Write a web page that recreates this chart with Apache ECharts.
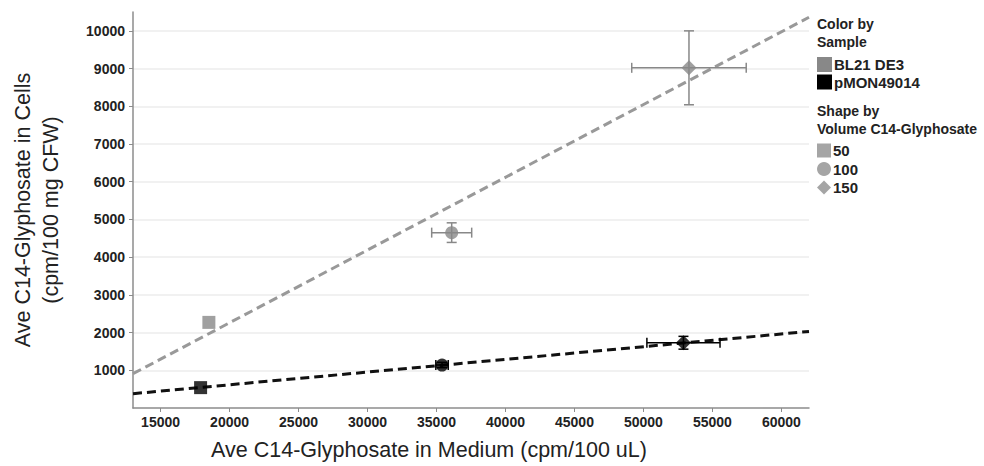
<!DOCTYPE html>
<html>
<head>
<meta charset="utf-8">
<script src="https://cdn.jsdelivr.net/npm/echarts@6/dist/echarts.min.js"></script>
<style>
  html, body { margin: 0; padding: 0; background: #fff; }
  #main { width: 984px; height: 466px; }
</style>
</head>
<body>
<div id="main"></div>
<script>
// samples (colour) and volumes (shape)
var sampleNames = ['BL21 DE3', 'pMON49014']
var volumeNames = ['50', '100', '150']
var volumeSymbols = ['rect', 'circle', 'diamond']

// BL21 DE3 points, one per volume
var bl21X = [18500, 36100, 53300]
var bl21Y = [2270, 4650, 9020]
var bl21XErr = [0, 1450, 4150]
var bl21YErr = [0, 260, 980]

// pMON49014 points, one per volume
var pmonX = [17900, 35400, 52900]
var pmonY = [540, 1140, 1730]
var pmonXErr = [0, 450, 2650]
var pmonYErr = [0, 70, 170]

// trend line ends
var bl21Trend = [[13000, 910], [62000, 10360]]
var pmonTrend = [[13000, 380], [62000, 2030]]

// tick labels
var xTicks = [15000, 20000, 25000, 30000, 35000, 40000, 45000, 50000, 55000, 60000]
var yTicks = [1000, 2000, 3000, 4000, 5000, 6000, 7000, 8000, 9000, 10000]

var sampleColors = ['#888888', '#000000']
var font = 'Liberation Sans, Arial, sans-serif'

var myChart = echarts.init(document.getElementById('main'), null, { renderer: 'svg' })

function errData(xs, ys, xe, ye) {
  return xs.map(function (x, i) {
    return [x, ys[i], xe[i], ye[i]]
  })
}

function renderErr(params, api) {
  var x = api.value(0)
  var y = api.value(1)
  var xe = api.value(2)
  var ye = api.value(3)
  if (!xe && !ye) return null
  var l = api.coord([x - xe, y])
  var r = api.coord([x + xe, y])
  var t = api.coord([x, y + ye])
  var b = api.coord([x, y - ye])
  var cap = 5
  var style = { stroke: api.visual('color'), lineWidth: 1.5 }
  var lines = [
    [l[0], l[1], r[0], r[1]],
    [l[0], l[1] - cap, l[0], l[1] + cap],
    [r[0], r[1] - cap, r[0], r[1] + cap],
    [t[0], t[1], b[0], b[1]],
    [t[0] - cap, t[1], t[0] + cap, t[1]],
    [b[0] - cap, b[1], b[0] + cap, b[1]],
  ]
  return {
    type: 'group',
    children: lines.map(function (p) {
      return { type: 'line', shape: { x1: p[0], y1: p[1], x2: p[2], y2: p[3] }, style: style }
    }),
  }
}

var series = []

// error bars, one series per sample (these drive the colour legend)
var errSets = [
  errData(bl21X, bl21Y, bl21XErr, bl21YErr),
  errData(pmonX, pmonY, pmonXErr, pmonYErr),
]
sampleNames.forEach(function (name, i) {
  series.push({
    name: name,
    type: 'custom',
    renderItem: renderErr,
    itemStyle: { color: sampleColors[i] },
    encode: { x: 0, y: 1 },
    data: errSets[i],
    z: 3,
  })
})

// trend lines
;[bl21Trend, pmonTrend].forEach(function (d, i) {
  series.push({
    type: 'line',
    data: d,
    showSymbol: false,
    silent: true,
    lineStyle: { color: i === 0 ? '#999999' : '#111111', width: 3, type: [9, 5] },
    z: 2,
  })
})

// markers, one series per volume (these drive the shape legend)
volumeNames.forEach(function (name, v) {
  series.push({
    name: name,
    type: 'scatter',
    symbol: volumeSymbols[v],
    symbolSize: v === 2 ? 15 : 13,
    itemStyle: { color: '#8e8e8e' },
    z: 5,
    data: [
      { value: [bl21X[v], bl21Y[v]], itemStyle: { color: sampleColors[0] } },
      { value: [pmonX[v], pmonY[v]], itemStyle: { color: sampleColors[1] } },
    ],
  })
})

var legendText = {
  color: '#222',
  fontWeight: 'bold',
  fontSize: 15,
  fontFamily: font,
  lineHeight: 15,
  padding: [0, 0, 0, -3],
}

myChart.setOption({
  animation: false,
  grid: { left: 133, right: 175, top: 12, bottom: 55 },
  xAxis: {
    type: 'value',
    min: 13000,
    max: 62000,
    name: 'Ave C14-Glyphosate in Medium (cpm/100 uL)',
    nameLocation: 'middle',
    nameGap: 31,
    nameTextStyle: { color: '#222', fontSize: 21.5, fontFamily: font, padding: [0, 84, 0, 0] },
    axisLine: { lineStyle: { color: '#8c8c8c', width: 1.5 } },
    axisTick: { show: true, length: 4, customValues: xTicks, lineStyle: { color: '#8c8c8c' } },
    axisLabel: {
      customValues: xTicks,
      formatter: function (v) { return String(v) },
      color: '#222',
      fontWeight: 'bold',
      fontSize: 14,
      fontFamily: font,
      margin: 7,
    },
    splitLine: { show: false },
  },
  yAxis: {
    type: 'value',
    min: 0,
    max: 10500,
    name: 'Ave C14-Glyphosate in Cells\n(cpm/100 mg CFW)',
    nameLocation: 'middle',
    nameGap: 68,
    nameTextStyle: { color: '#222', fontSize: 21.5, fontFamily: font, lineHeight: 28 },
    axisLine: { show: true, lineStyle: { color: '#8c8c8c', width: 1.5 } },
    axisTick: { show: true, length: 4, customValues: yTicks, lineStyle: { color: '#8c8c8c' } },
    axisLabel: {
      customValues: yTicks,
      formatter: function (v) { return String(v) },
      color: '#222',
      fontWeight: 'bold',
      fontSize: 14,
      fontFamily: font,
      margin: 8,
    },
    splitLine: { show: true, lineStyle: { color: '#ececec', width: 1.5 } },
  },
  legend: [
    {
      left: 817,
      top: 57,
      orient: 'vertical',
      selectedMode: false,
      padding: 0,
      itemWidth: 15,
      itemHeight: 15,
      itemGap: 2.5,
      textStyle: legendText,
      data: [
        { name: sampleNames[0], icon: 'rect' },
        { name: sampleNames[1], icon: 'rect' },
      ],
    },
    {
      left: 817,
      top: 143,
      orient: 'vertical',
      selectedMode: false,
      padding: 0,
      itemWidth: 14,
      itemHeight: 14,
      itemGap: 3.5,
      textStyle: legendText,
      data: volumeNames.map(function (n, i) {
        return { name: n, icon: volumeSymbols[i] }
      }),
    },
  ],
  graphic: [
    {
      type: 'text',
      left: 817,
      top: 15,
      style: { text: 'Color by\nSample', fill: '#222', font: 'bold 14px ' + font, lineHeight: 18 },
    },
    {
      type: 'text',
      left: 817,
      top: 102,
      style: { text: 'Shape by\nVolume C14-Glyphosate', fill: '#222', font: 'bold 14px ' + font, lineHeight: 18 },
    },
  ],
  series: series,
})
</script>
</body>
</html>
